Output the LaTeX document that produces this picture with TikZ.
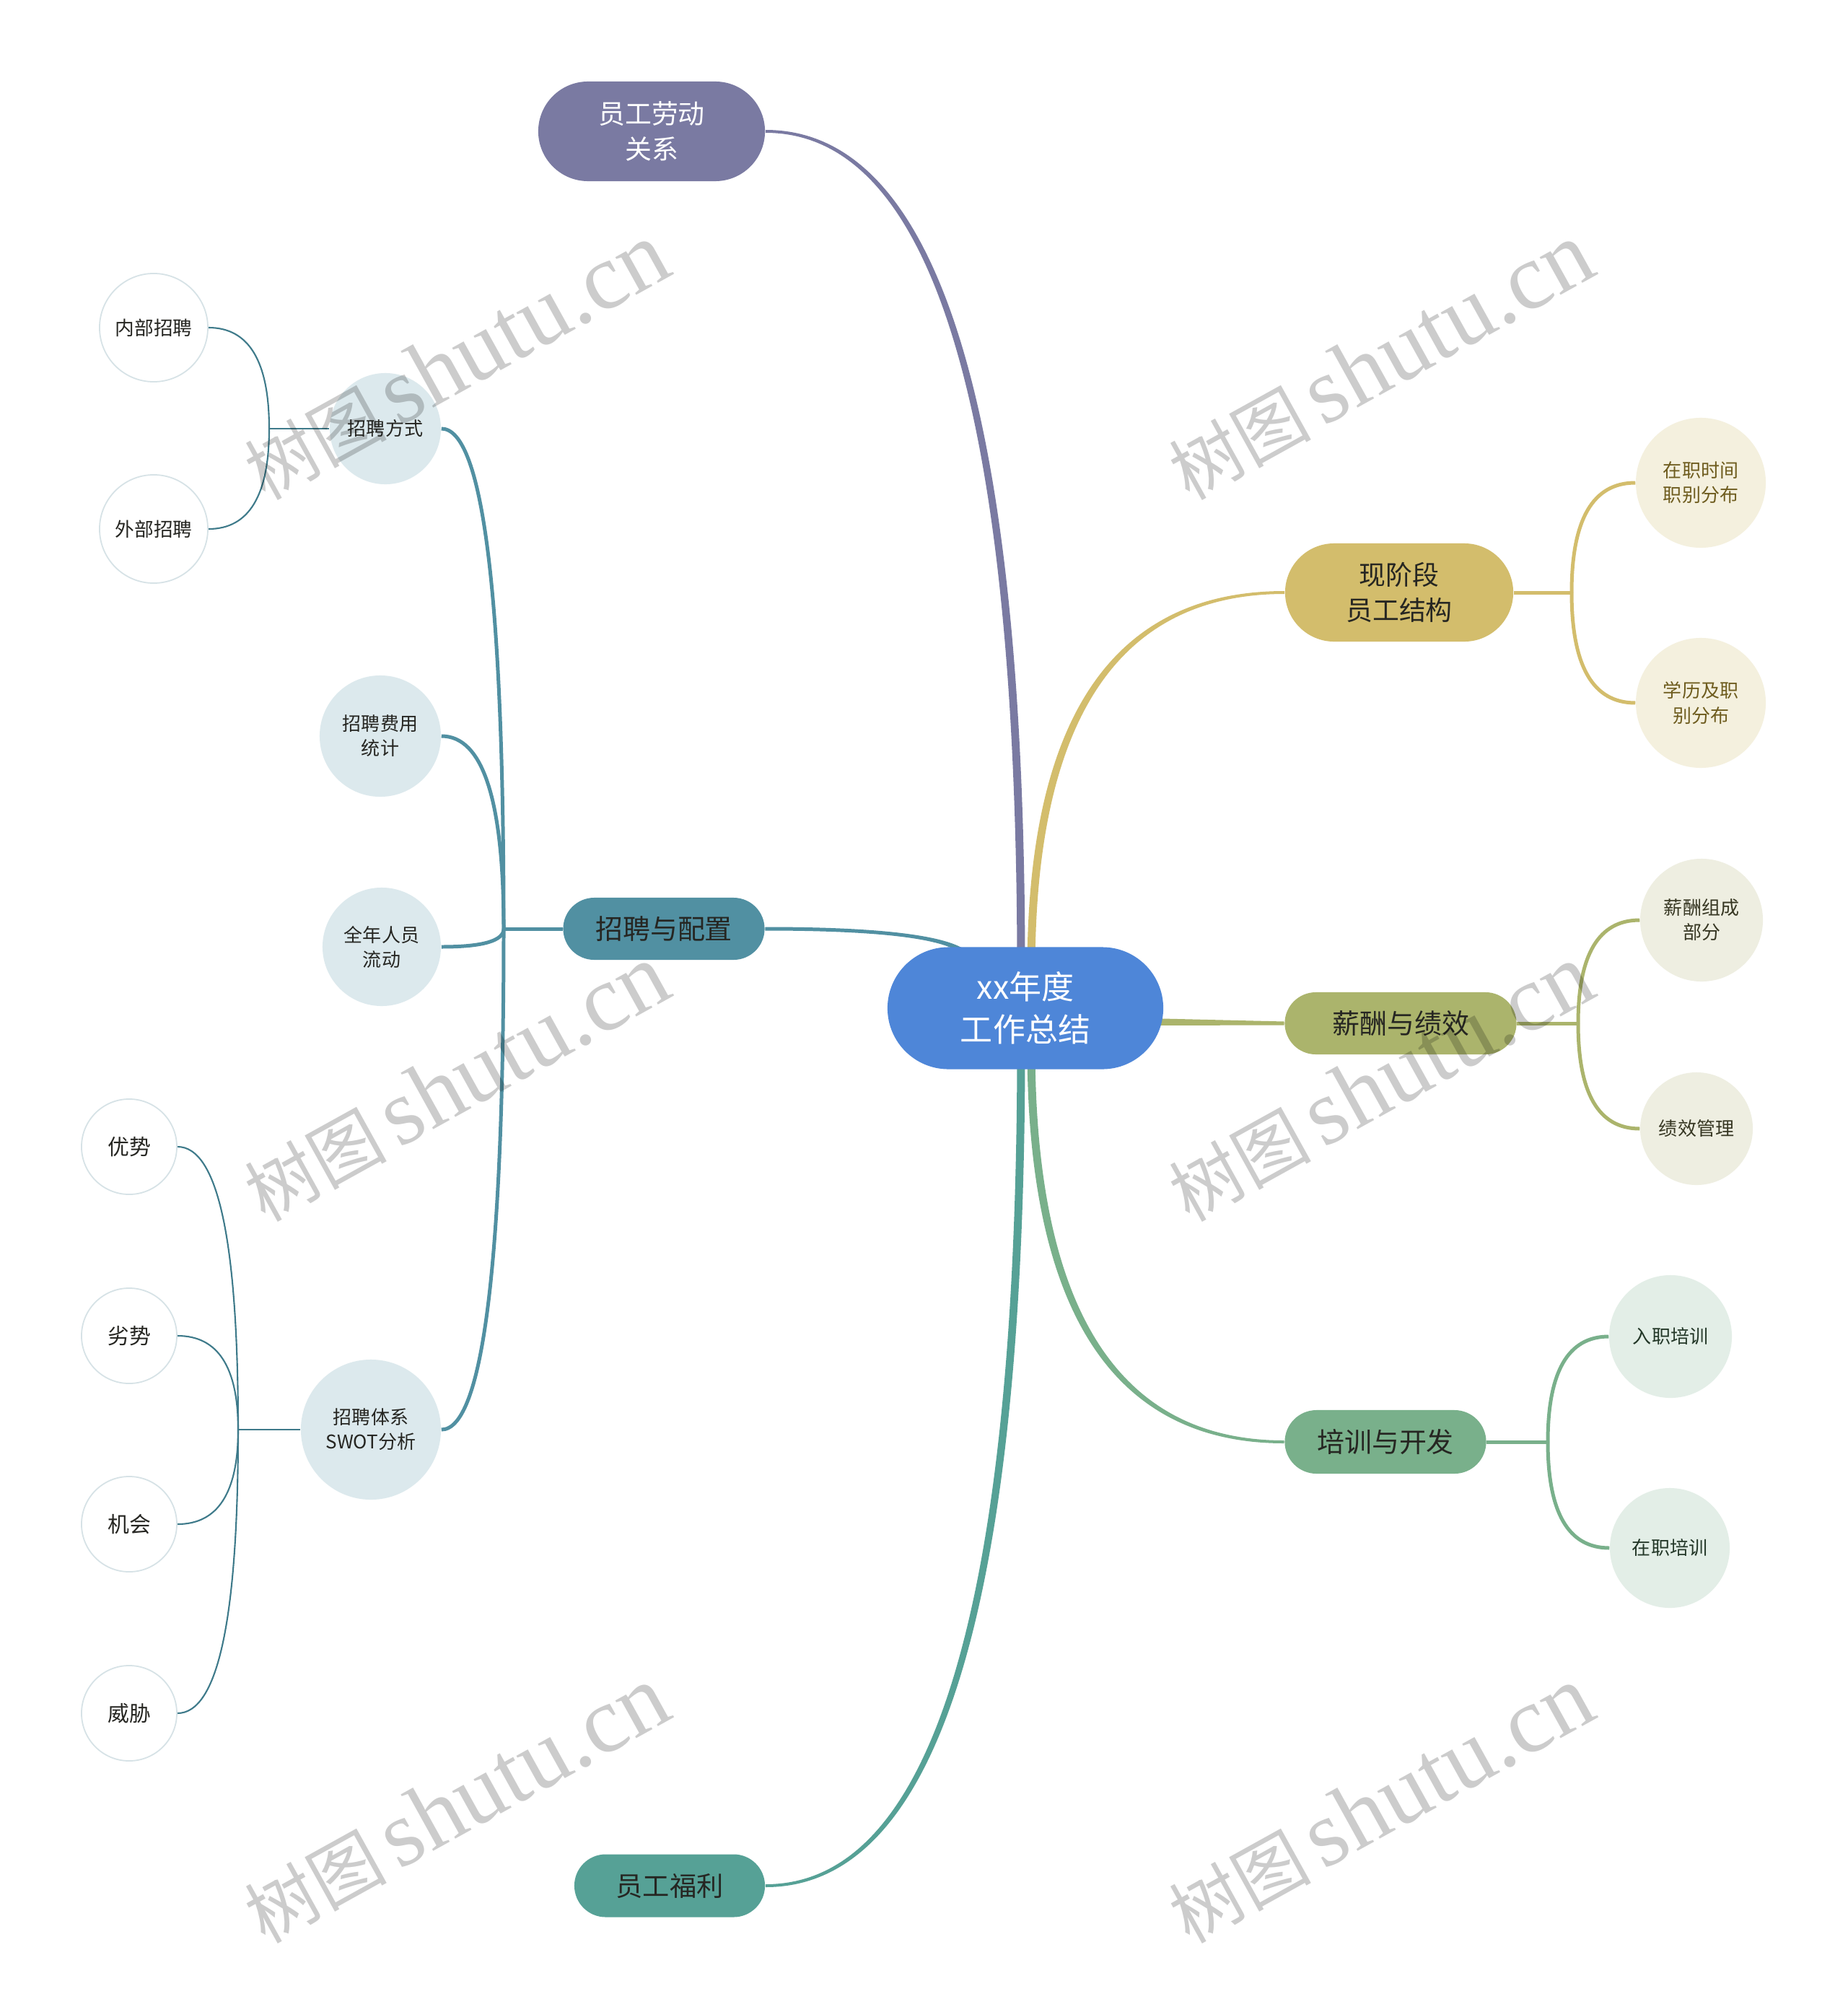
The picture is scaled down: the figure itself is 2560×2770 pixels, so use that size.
\documentclass[tikz,border=0pt]{standalone}
\usepackage{fontspec}
\setmainfont{Noto Sans CJK SC}
\newfontfamily\wmcjk{Noto Sans CJK SC}
\newfontfamily\wmlat{Liberation Serif}
\usetikzlibrary{calc,backgrounds}
\newcommand\myfs[2]{\fontsize{#1}{#2}\selectfont}
\definecolor{cblue}{RGB}{78,134,216}
\definecolor{cpurple}{RGB}{122,122,162}
\definecolor{cteal}{RGB}{81,144,162}
\definecolor{cwelf}{RGB}{86,161,150}
\definecolor{cgold}{RGB}{211,189,108}
\definecolor{colive}{RGB}{171,180,108}
\definecolor{cgreen}{RGB}{121,176,139}
\definecolor{kidteal}{RGB}{220,233,237}
\definecolor{kidgold}{RGB}{244,240,222}
\definecolor{kidolive}{RGB}{238,238,225}
\definecolor{kidgreen}{RGB}{227,238,231}
\definecolor{leafborder}{RGB}{214,226,230}
\definecolor{leafline}{RGB}{62,122,138}
\definecolor{txtdark}{RGB}{38,38,34}
\definecolor{txtgold}{RGB}{110,92,30}
\definecolor{txtolive}{RGB}{55,55,35}
\definecolor{txtgreen}{RGB}{35,55,40}
\tikzset{
  pill/.style={rectangle, rounded corners=#1, inner sep=0pt, align=center},
  kid/.style={circle, inner sep=0pt, align=center, font=\myfs{7.4pt}{9.7pt}},
  leaf/.style={circle, inner sep=0pt, align=center, fill=white, draw=leafborder, line width=0.5pt, text=txtdark},
  subline/.style={line width=1.42pt},
  leafconn/.style={draw=leafline, line width=0.6pt},
  vh/.style={to path={.. controls ($(\tikztostart)!0.6667!(\tikztostart |- \tikztotarget)$) and ($(\tikztotarget)!0.6667!(\tikztostart |- \tikztotarget)$) .. (\tikztotarget)}},
  taper/.style 2 args={to path={($(\tikztostart)+(0,#1)$) .. controls ($(\tikztostart)!0.6667!(\tikztotarget |- \tikztostart)+({0.6667*(#2)},#1)$) and ($(\tikztotarget)!0.6667!(\tikztotarget |- \tikztostart)+(#2,{0.6667*(#1)})$) .. ($(\tikztotarget)+(#2,0)$) -- ($(\tikztotarget)+({-1*(#2)},0)$) .. controls ($(\tikztotarget)!0.6667!(\tikztotarget |- \tikztostart)+({-1*(#2)},{-0.6667*(#1)})$) and ($(\tikztostart)!0.6667!(\tikztotarget |- \tikztostart)+({-0.6667*(#2)},{-1*(#1)})$) .. ($(\tikztostart)+(0,{-1*(#1)})$) -- cycle}},
  wm/.style={anchor=base, rotate=29, text=black, text opacity=0.2, inner sep=0pt}
}
\begin{document}
\begin{tikzpicture}[x=0.01cm,y=-0.01cm]
\useasboundingbox (0,0) rectangle (2560,2770);

% main nodes
\node[pill=0.845cm, fill=cblue, text=white, minimum width=3.82cm, minimum height=1.69cm, font=\myfs{12.8pt}{16.8pt}] (cc) at (1421,1397) {xx年度\\工作总结};
\node[pill=0.69cm, fill=cpurple, text=white, minimum width=3.14cm, minimum height=1.38cm, font=\myfs{10.5pt}{14pt}] (p) at (903,182) {员工劳动\\关系};
\node[pill=0.43cm, fill=cteal, text=txtdark, minimum width=2.79cm, minimum height=0.86cm, font=\myfs{10.8pt}{13pt}] (r) at (920,1287) {招聘与配置};
\node[pill=0.435cm, fill=cwelf, text=txtdark, minimum width=2.64cm, minimum height=0.87cm, font=\myfs{10.6pt}{13pt}] (w) at (928,2613) {员工福利};
\node[pill=0.68cm, fill=cgold, text=txtdark, minimum width=3.16cm, minimum height=1.36cm, font=\myfs{10.5pt}{14pt}] (g) at (1939,821) {现阶段\\员工结构};
\node[pill=0.43cm, fill=colive, text=txtdark, minimum width=3.21cm, minimum height=0.86cm, font=\myfs{10.8pt}{13pt}] (o) at (1941,1418) {薪酬与绩效};
\node[pill=0.44cm, fill=cgreen, text=txtdark, minimum width=2.79cm, minimum height=0.88cm, font=\myfs{10.8pt}{13pt}] (t) at (1920,1998) {培训与开发};

% right children
\node[kid, fill=kidgold, text=txtgold, minimum size=1.80cm] (g1) at (2357,669) {在职时间\\职别分布};
\node[kid, fill=kidgold, text=txtgold, minimum size=1.80cm] (g2) at (2357,974) {学历及职\\别分布};
\node[kid, fill=kidolive, text=txtolive, minimum size=1.70cm] (o1) at (2358,1275) {薪酬组成\\部分};
\node[kid, fill=kidolive, text=txtolive, minimum size=1.56cm] (o2) at (2351,1564) {绩效管理};
\node[kid, fill=kidgreen, text=txtgreen, minimum size=1.70cm] (t1) at (2315,1852) {入职培训};
\node[kid, fill=kidgreen, text=txtgreen, minimum size=1.66cm] (t2) at (2314,2145) {在职培训};

% left children
\node[kid, fill=kidteal, text=txtdark, minimum size=1.54cm] (r1) at (534,594) {招聘方式};
\node[kid, fill=kidteal, text=txtdark, minimum size=1.68cm] (r2) at (527,1020) {招聘费用\\统计};
\node[kid, fill=kidteal, text=txtdark, minimum size=1.64cm] (r3) at (529,1312) {全年人员\\流动};
\node[kid, fill=kidteal, text=txtdark, minimum size=1.94cm] (r4) at (514,1981) {招聘体系\\SWOT分析};

% leaves
\node[leaf, minimum size=1.50cm, font=\myfs{7.6pt}{9pt}] (a1) at (213,454) {内部招聘};
\node[leaf, minimum size=1.50cm, font=\myfs{7.6pt}{9pt}] (a2) at (213,733) {外部招聘};
\node[leaf, minimum size=1.32cm, font=\myfs{8.5pt}{10pt}] (s1) at (179,1589) {优势};
\node[leaf, minimum size=1.32cm, font=\myfs{8.5pt}{10pt}] (s2) at (179,1851) {劣势};
\node[leaf, minimum size=1.32cm, font=\myfs{8.5pt}{10pt}] (s3) at (179,2112) {机会};
\node[leaf, minimum size=1.32cm, font=\myfs{8.5pt}{10pt}] (s4) at (179,2374) {威胁};

% junction coordinates
\coordinate (cpP) at (1415,1345);
\coordinate (cpG) at (1429,1345);
\coordinate (cpW) at (1415,1450);
\coordinate (cpT) at (1429,1450);
\coordinate (cpR) at (1345,1335);
\coordinate (cpO) at (1590,1416);
\coordinate (rb) at (698,1287);
\coordinate (ab) at (373,594);
\coordinate (sb) at (330,1981);
\coordinate (gb) at (2178,821);
\coordinate (ob) at (2187,1418);
\coordinate (tb) at (2145,1998);

\begin{pgfonlayer}{background}
  \fill[white] (0,0) rectangle (2560,2770);
  % main branches (tapered)
  \fill[cpurple] (p.east) to[taper={-2}{5.5}] (cpP);
  \fill[cwelf] (w.east) to[taper={2}{5.5}] (cpW);
  \fill[cgold] (g.west) to[taper={-2}{-5.5}] (cpG);
  \fill[cgreen] (t.west) to[taper={2}{-5.5}] (cpT);
  \fill[cteal] (r.east) to[taper={-2.5}{5.5}] (cpR);
  \fill[colive] ($(cpO)+(0,-5)$) -- ($(o.west)+(0,-2.5)$) -- ($(o.west)+(0,2.5)$) -- ($(cpO)+(0,5)$) -- cycle;

  % teal sub-branches
  \draw[cteal, subline] (r.west) -- (rb);
  \draw[cteal, subline] (rb) to[vh] (r1.east);
  \draw[cteal, subline] (rb) to[vh] (r2.east);
  \draw[cteal, subline] (rb) to[vh] (r3.east);
  \draw[cteal, subline] (rb) to[vh] (r4.east);

  % leaves
  \draw[leafconn] (r1.west) -- (ab);
  \draw[leafconn] (ab) to[vh] (a1.east);
  \draw[leafconn] (ab) to[vh] (a2.east);
  \draw[leafconn] (r4.west) -- (sb);
  \draw[leafconn] (sb) to[vh] (s1.east);
  \draw[leafconn] (sb) to[vh] (s2.east);
  \draw[leafconn] (sb) to[vh] (s3.east);
  \draw[leafconn] (sb) to[vh] (s4.east);

  % right brackets
  \draw[cgold, subline] (g.east) -- (gb);
  \draw[cgold, subline] (gb) to[vh] (g1.west);
  \draw[cgold, subline] (gb) to[vh] (g2.west);
  \draw[colive, subline] (o.east) -- (ob);
  \draw[colive, subline] (ob) to[vh] (o1.west);
  \draw[colive, subline] (ob) to[vh] (o2.west);
  \draw[cgreen, subline] (t.east) -- (tb);
  \draw[cgreen, subline] (tb) to[vh] (t1.west);
  \draw[cgreen, subline] (tb) to[vh] (t2.west);
\end{pgfonlayer}

% watermarks
\foreach \wx/\wy [count=\i] in {652/537, 1933/537, 652/1537, 1933/1537, 652/2537, 1933/2537}{
  \node[wm] (wm\i) at (\wx,\wy) {{\wmcjk\myfs{28pt}{28pt}树图}\hspace{0.45em}{\wmlat\myfs{37pt}{37pt}shutu.cn}};
}
\end{tikzpicture}
\end{document}
